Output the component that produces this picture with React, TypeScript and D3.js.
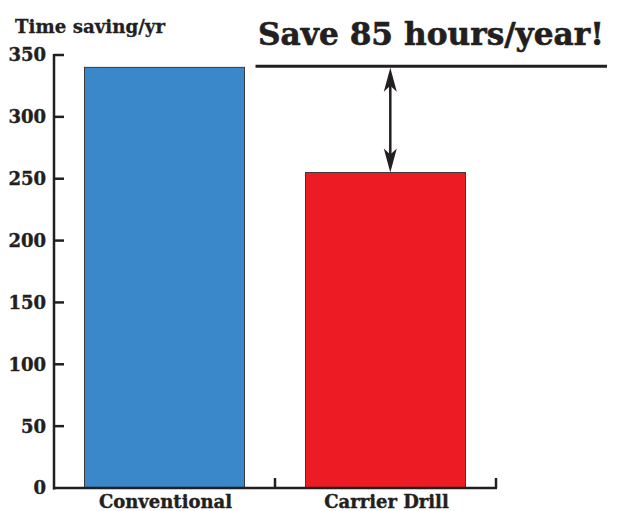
import React, { useEffect, useRef } from 'react';
import * as d3 from 'd3';

const categories = ['Conventional', 'Carrier Drill'];
const hours = [340, 255];
const barColors = ['#3a88c9', '#ed1c24'];
const yTicks = [0, 50, 100, 150, 200, 250, 300, 350];
const yLabel = 'Time saving/yr';
const headline = 'Save 85 hours/year!';

const App: React.FC = () => {
  const svgRef = useRef<SVGSVGElement>(null);

  useEffect(() => {
    if (!svgRef.current) return;
    const svg = d3.select(svgRef.current);
    svg.selectAll('*').remove();

    const font = '"DejaVu Serif", serif';
    const ink = '#231f20';

    const x = d3.scaleBand<string>()
      .domain(categories)
      .range([54, 496])
      .paddingInner(0.276)
      .paddingOuter(0.138);

    const y = d3.scaleLinear()
      .domain([0, 350])
      .range([488, 55]);

    const data = categories.map((c, i) => ({ cat: c, value: hours[i], color: barColors[i] }));

    // bars
    svg.append('g')
      .selectAll('rect')
      .data(data)
      .join('rect')
      .attr('x', d => x(d.cat) || 0)
      .attr('y', d => y(d.value))
      .attr('width', x.bandwidth())
      .attr('height', d => y(0) - y(d.value))
      .attr('fill', d => d.color)
      .attr('stroke', '#3a3a3a')
      .attr('stroke-width', 1);

    // y axis
    const yAxis = svg.append('g');
    yAxis.append('line')
      .attr('x1', 54).attr('x2', 54)
      .attr('y1', y(350) - 1).attr('y2', y(0) + 1.5)
      .attr('stroke', ink).attr('stroke-width', 2.5);
    yAxis.selectAll('line.tick')
      .data(yTicks.filter(t => t > 0))
      .join('line')
      .attr('class', 'tick')
      .attr('x1', 54).attr('x2', 64)
      .attr('y1', d => y(d)).attr('y2', d => y(d))
      .attr('stroke', ink).attr('stroke-width', 2.5);
    yAxis.selectAll('text')
      .data(yTicks)
      .join('text')
      .attr('x', 46)
      .attr('y', d => y(d))
      .attr('dy', '0.36em')
      .attr('text-anchor', 'end')
      .attr('font-family', font)
      .attr('font-weight', 'bold')
      .attr('font-size', 18)
      .attr('fill', ink)
      .attr('stroke', ink)
      .attr('stroke-width', 0.4)
      .text(d => d);

    // x axis
    const step = x.step();
    const xAxis = svg.append('g');
    xAxis.append('line')
      .attr('x1', 53).attr('x2', 497)
      .attr('y1', y(0)).attr('y2', y(0))
      .attr('stroke', ink).attr('stroke-width', 2.5);
    xAxis.selectAll('line.tick')
      .data(categories)
      .join('line')
      .attr('class', 'tick')
      .attr('x1', d => (x(d) || 0) + x.bandwidth() / 2 + step / 2)
      .attr('x2', d => (x(d) || 0) + x.bandwidth() / 2 + step / 2)
      .attr('y1', y(0)).attr('y2', y(0) - 10)
      .attr('stroke', ink).attr('stroke-width', 2.5);
    xAxis.selectAll('text')
      .data(categories)
      .join('text')
      .attr('x', d => (x(d) || 0) + x.bandwidth() / 2 + 1)
      .attr('y', 508)
      .attr('text-anchor', 'middle')
      .attr('font-family', font)
      .attr('font-weight', 'bold')
      .attr('font-size', 18)
      .attr('fill', ink)
      .attr('stroke', ink)
      .attr('stroke-width', 0.4)
      .text(d => d);

    // axis title
    svg.append('text')
      .attr('x', 15).attr('y', 33)
      .attr('font-family', font)
      .attr('font-weight', 'bold')
      .attr('font-size', 18)
      .attr('textLength', 150)
      .attr('lengthAdjust', 'spacingAndGlyphs')
      .attr('fill', ink)
      .attr('stroke', ink)
      .attr('stroke-width', 0.3)
      .text(yLabel);

    // headline
    svg.append('text')
      .attr('x', 258).attr('y', 45)
      .attr('font-family', font)
      .attr('font-weight', 'bold')
      .attr('font-size', 31)
      .attr('textLength', 346)
      .attr('lengthAdjust', 'spacingAndGlyphs')
      .attr('fill', ink)
      .attr('stroke', ink)
      .attr('stroke-width', 0.6)
      .text(headline);

    // reference line at conventional level
    const topY = y(hours[0]) - 1;
    svg.append('line')
      .attr('x1', (x(categories[0]) || 0) + x.bandwidth() + 11)
      .attr('x2', 607)
      .attr('y1', topY).attr('y2', topY)
      .attr('stroke', ink).attr('stroke-width', 3);

    // double-headed arrow showing the difference
    const ax = (x(categories[1]) || 0) + x.bandwidth() * 0.53;
    const y1 = topY + 1.5;
    const y2 = y(hours[1]);
    svg.append('line')
      .attr('x1', ax).attr('x2', ax)
      .attr('y1', y1 + 10).attr('y2', y2 - 10)
      .attr('stroke', ink).attr('stroke-width', 2.5);
    svg.append('path')
      .attr('d', `M${ax},${y1} L${ax - 6.5},${y1 + 24} L${ax},${y1 + 18} L${ax + 6.5},${y1 + 24} Z`)
      .attr('fill', ink);
    svg.append('path')
      .attr('d', `M${ax},${y2} L${ax - 6.5},${y2 - 24} L${ax},${y2 - 18} L${ax + 6.5},${y2 - 24} Z`)
      .attr('fill', ink);
  }, []);

  return (
    <svg
      ref={svgRef}
      width={622}
      height={511}
      style={{ position: 'absolute', left: 0, top: 0, background: '#fff' }}
    />
  );
};

export default App;
